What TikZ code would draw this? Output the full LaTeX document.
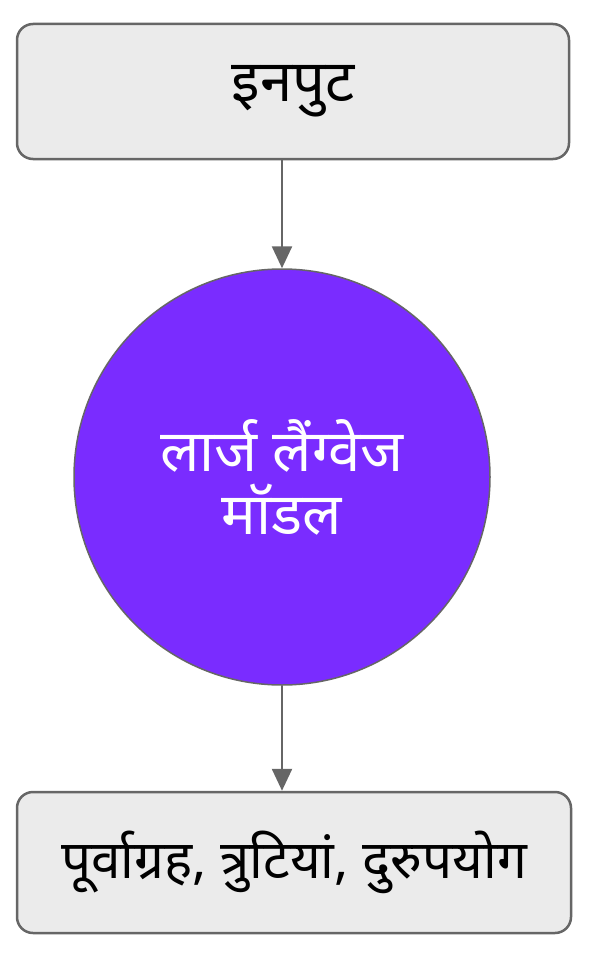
\documentclass[tikz,border=0pt]{standalone}
\usepackage{fontspec}
\newfontfamily\hindi[Script=Devanagari]{Noto Sans}
\usetikzlibrary{arrows.meta}
\definecolor{boxfill}{HTML}{EBEBEB}
\definecolor{edgegray}{HTML}{666666}
\definecolor{llmpurple}{HTML}{7A2CFF}
\begin{document}
\begin{tikzpicture}[x=1pt,y=-1pt,
  every node/.style={font=\hindi\fontsize{58}{63}\selectfont},
  stagebox/.style={draw=edgegray,line width=2.5pt,fill=boxfill,rounded corners=16pt,
    minimum width=552pt,minimum height=135pt,inner sep=0pt},
  llm/.style={circle,draw=edgegray,line width=1.5pt,fill=llmpurple,text=white,
    minimum size=416pt,inner sep=0pt,align=center},
  flow/.style={-{Triangle[length=22pt,width=20pt]},draw=edgegray,line width=2.5pt}]
\useasboundingbox (0,0) rectangle (594,955);
\node[stagebox] (input) at (293,91.5) {इनपुट};
\node[llm] (model) at (282,477) {लार्ज लैंग्वेज\\मॉडल};
\node[stagebox,minimum width=554pt,minimum height=141pt,
  font=\hindi\fontsize{53}{60}\selectfont] (risks) at (294,862.5) {पूर्वाग्रह, त्रुटियां, दुरुपयोग};
\draw[flow] (input.south -| model.north) -- (model.north);
\draw[flow] (model.south) -- (risks.north -| model.south);
\end{tikzpicture}
\end{document}
